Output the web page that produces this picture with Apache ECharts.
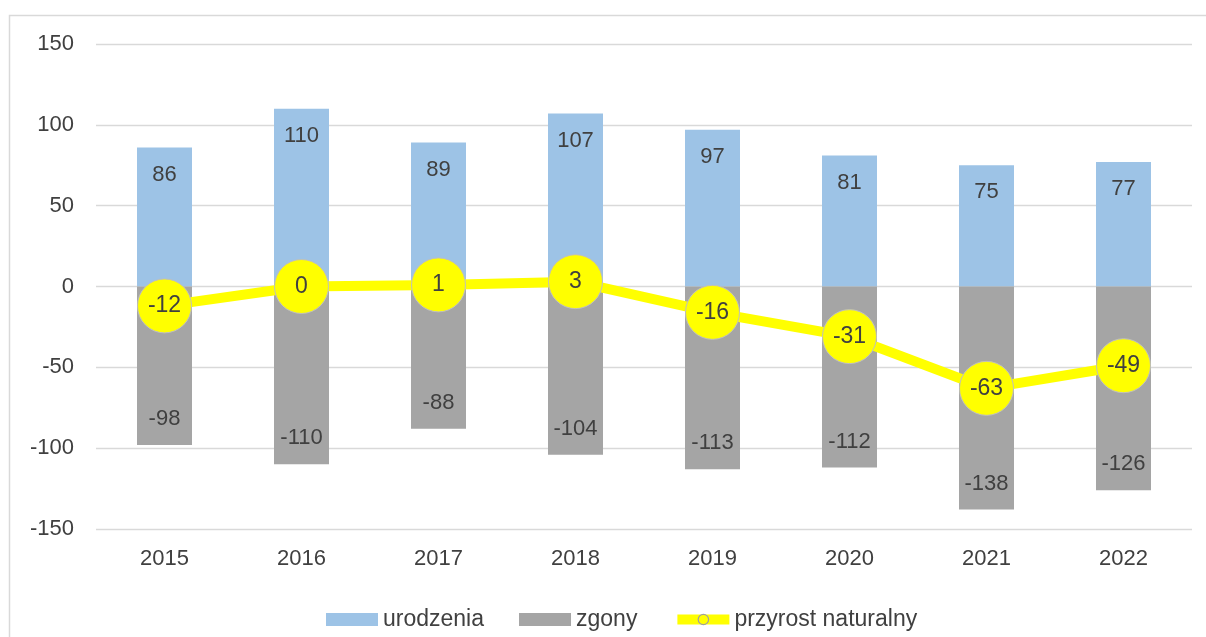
<!DOCTYPE html>
<html><head><meta charset="utf-8">
<script src="https://cdn.jsdelivr.net/npm/echarts@6/dist/echarts.min.js"></script>
<style>html,body{margin:0;padding:0;background:#fff}#c{width:1206px;height:637px}</style>
</head><body><div id="c"></div>
<script>
const categories = ['2015','2016','2017','2018','2019','2020','2021','2022'];
const urodzenia = [86,110,89,107,97,81,75,77];
const zgony = [-98,-110,-88,-104,-113,-112,-138,-126];
const przyrost = [-12,0,1,3,-16,-31,-63,-49];
const yTicks = [-150,-100,-50,0,50,100,150];

const FONT = '"Liberation Sans", Arial, sans-serif';
const TXT = '#404040';
const chart = echarts.init(document.getElementById('c'));
chart.setOption({
  animation: false,
  textStyle: {fontFamily: FONT},
  graphic: [{type:'rect', left:7, top:13, shape:{width:1300, height:700}, style:{fill:'none', stroke:'#d9d9d9', lineWidth:1.5}}],
  grid: {left:96, right:14, top:44, bottom:108, containLabel:false},
  legend: {
    top: 603, left: 321, itemGap: 35, itemWidth: 52, itemHeight: 13,
    textStyle: {fontFamily: FONT, fontSize: 23, color: TXT},
    data: [{name:'urodzenia', icon:'rect'},{name:'zgony', icon:'rect'},
           {name:'przyrost naturalny', lineStyle:{width:10, color:'#ffff00'},
            itemStyle:{color:'#ffff00', borderColor:'#a0a0a0', borderWidth:1.2}}]
  },
  xAxis: {
    type:'category', data: categories,
    axisLine:{show:false}, axisTick:{show:false},
    axisLabel:{fontFamily:FONT, fontSize:22, color:TXT, margin:19}
  },
  yAxis: {
    type:'value', min: yTicks[0], max: yTicks[yTicks.length-1], interval: 50,
    axisLine:{show:false}, axisTick:{show:false},
    axisLabel:{fontFamily:FONT, fontSize:22, color:TXT, margin:22},
    splitLine:{lineStyle:{color:'#d9d9d9', width:1.3}}
  },
  series: [
    {name:'urodzenia', type:'bar', stack:'a', data: urodzenia, barWidth: 55,
     itemStyle:{color:'#9dc3e6'},
     label:{show:true, position:'insideTop', distance:16, fontFamily:FONT, fontSize:22, color:TXT}},
    {name:'zgony', type:'bar', stack:'a', data: zgony, barWidth: 55,
     itemStyle:{color:'#a5a5a5'},
     label:{show:true, position:'insideBottom', distance:15, fontFamily:FONT, fontSize:22, color:TXT}},
    {name:'przyrost naturalny', type:'line', data: przyrost, z: 5,
     lineStyle:{color:'#ffff00', width:10},
     symbol:'circle', symbolSize:54,
     itemStyle:{color:'#ffff00', borderColor:'#bfbfbf', borderWidth:1},
     label:{show:true, position:'inside', fontFamily:FONT, fontSize:23, color:TXT}}
  ]
});
</script></body></html>
